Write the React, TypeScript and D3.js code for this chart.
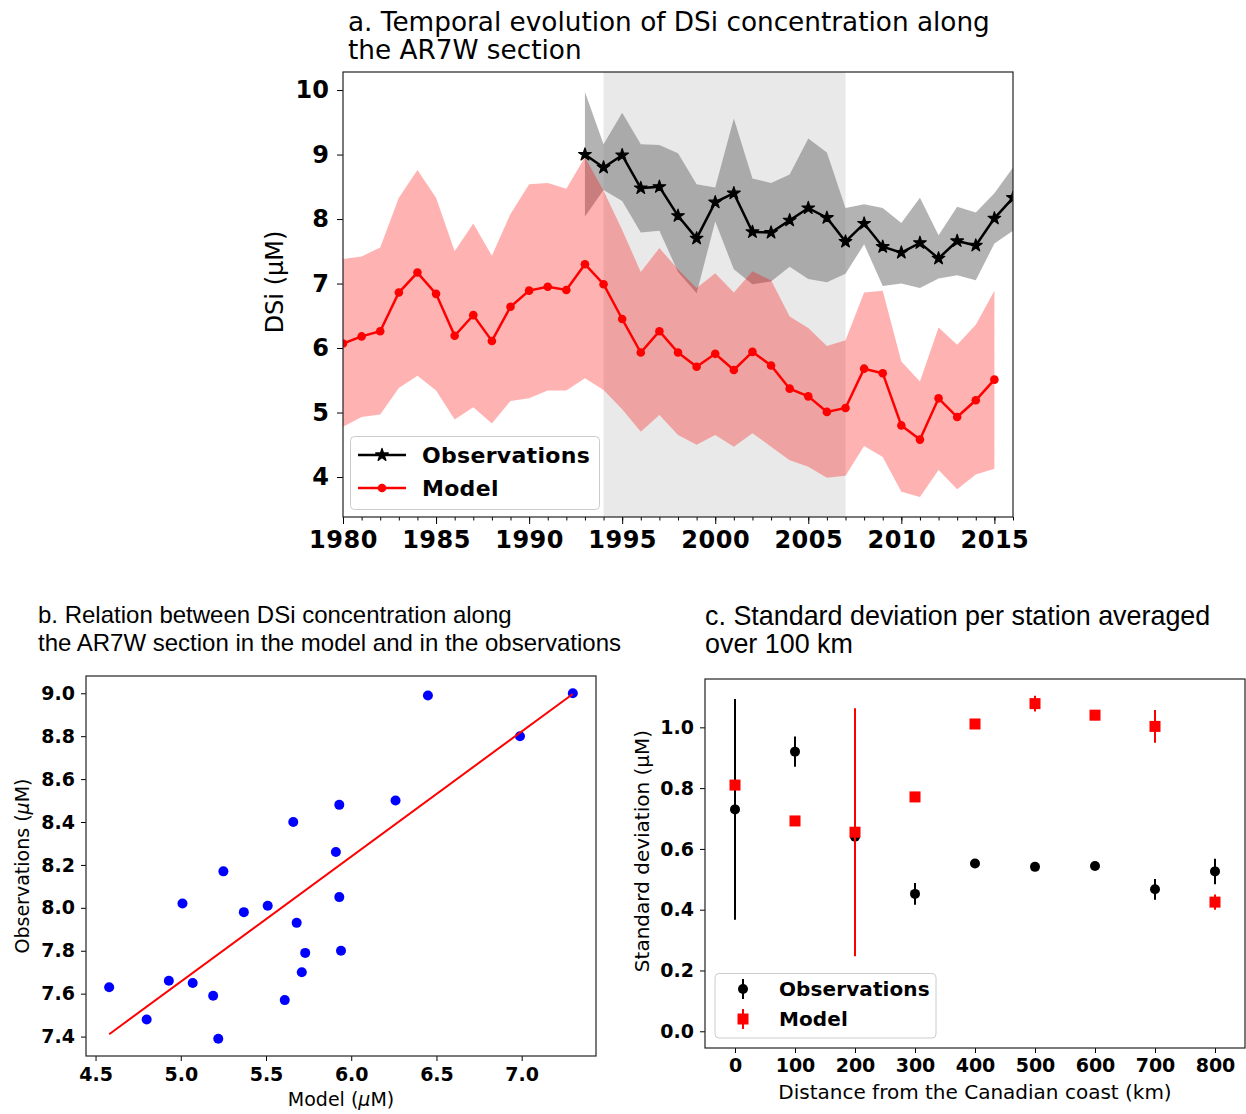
import React, { useEffect, useRef } from 'react';
import * as d3 from 'd3';

// ---- a. yearly DSi along AR7W (uM)
const modelYears = [1980, 1981, 1982, 1983, 1984, 1985, 1986, 1987, 1988, 1989, 1990, 1991, 1992, 1993, 1994, 1995, 1996, 1997, 1998, 1999, 2000, 2001, 2002, 2003, 2004, 2005, 2006, 2007, 2008, 2009, 2010, 2011, 2012, 2013, 2014, 2015];
const modelMean = [6.07, 6.18, 6.26, 6.86, 7.17, 6.84, 6.19, 6.51, 6.11, 6.64, 6.89, 6.95, 6.9, 7.3, 6.99, 6.45, 5.93, 6.26, 5.93, 5.71, 5.91, 5.66, 5.94, 5.73, 5.37, 5.25, 5.01, 5.07, 5.68, 5.61, 4.8, 4.58, 5.22, 4.93, 5.19, 5.51];
const modelHigh = [7.38, 7.42, 7.56, 8.33, 8.76, 8.33, 7.5, 7.93, 7.43, 8.08, 8.54, 8.56, 8.47, 8.96, 8.44, 7.83, 7.18, 7.55, 7.22, 6.93, 7.16, 6.86, 7.19, 7.05, 6.49, 6.31, 6.03, 6.12, 6.86, 6.89, 5.79, 5.48, 6.32, 6.05, 6.36, 6.89];
const modelLow = [4.78, 4.93, 4.97, 5.38, 5.57, 5.34, 4.89, 5.08, 4.83, 5.18, 5.22, 5.34, 5.34, 5.53, 5.35, 5.05, 4.7, 4.96, 4.65, 4.5, 4.65, 4.47, 4.68, 4.47, 4.26, 4.16, 3.99, 4.02, 4.48, 4.31, 3.77, 3.69, 4.11, 3.81, 4.04, 4.13];

const obsYears = [1993, 1994, 1995, 1996, 1997, 1998, 1999, 2000, 2001, 2002, 2003, 2004, 2005, 2006, 2007, 2008, 2009, 2010, 2011, 2012, 2013, 2014, 2015, 2016];
const obsMean = [9.0, 8.8, 8.99, 8.48, 8.5, 8.05, 7.7, 8.26, 8.4, 7.8, 7.79, 7.98, 8.17, 8.02, 7.65, 7.93, 7.57, 7.48, 7.63, 7.39, 7.66, 7.59, 8.01, 8.33];
const obsHigh = [9.97, 9.16, 9.65, 9.16, 9.15, 9.02, 8.54, 8.49, 9.56, 8.63, 8.56, 8.69, 9.25, 9.03, 8.17, 8.23, 8.17, 7.94, 8.33, 7.75, 8.19, 8.1, 8.4, 8.8];
const obsLow = [8.04, 8.45, 8.28, 7.79, 7.82, 7.18, 6.85, 7.96, 7.22, 6.99, 7.03, 7.26, 7.07, 7.02, 7.15, 7.61, 6.96, 7.0, 6.93, 7.08, 7.13, 7.05, 7.62, 7.82];

const shadeYears = [1994, 2007];
const yearTicks = [1980, 1985, 1990, 1995, 2000, 2005, 2010, 2015];
const dsiTicks = [4, 5, 6, 7, 8, 9, 10];

// ---- b. model vs observations
const modelTicksB = [4.5, 5.0, 5.5, 6.0, 6.5, 7.0];
const obsTicksB = [7.4, 7.6, 7.8, 8.0, 8.2, 8.4, 8.6, 8.8, 9.0];

// ---- c. std per station, 100 km bins
const distances = [0, 100, 200, 300, 400, 500, 600, 700, 800];
const obsStd = [0.73, 0.92, 0.64, 0.452, 0.552, 0.541, 0.544, 0.467, 0.526];
const obsStdErr = [0.363, 0.05, 0.115, 0.036, 0.004, 0.004, 0.004, 0.034, 0.042];
const modelStd = [0.81, 0.692, 0.655, 0.771, 1.011, 1.078, 1.04, 1.003, 0.425];
const modelStdErr = [0.008, 0.004, 0.408, 0.008, 0.006, 0.026, 0.004, 0.054, 0.025];
const distTicks = [0, 100, 200, 300, 400, 500, 600, 700, 800];
const stdTicks = [0, 0.2, 0.4, 0.6, 0.8, 1.0];

const SANS = "'DejaVu Sans', sans-serif";
const ARIAL = "'Liberation Sans', Arial, sans-serif";

function styleAxis(g, size) {
  g.select('.domain').remove();
  g.attr('font-family', SANS).attr('font-size', size).attr('font-weight', 'bold');
  g.selectAll('text').attr('fill', '#000');
  g.selectAll('line').attr('stroke', '#000').attr('stroke-width', 1);
}

function frame(svg, box) {
  svg.append('rect')
    .attr('x', box.l).attr('y', box.t)
    .attr('width', box.r - box.l).attr('height', box.b - box.t)
    .attr('fill', 'none').attr('stroke', '#222').attr('stroke-width', 1.2);
}

// label with an (optionally italic) mu
function muLabel(svg, x, y, before, size, rotate, italicMu) {
  const t = svg.append('text')
    .attr('font-family', SANS).attr('font-size', size)
    .attr('text-anchor', 'middle').attr('fill', '#000');
  if (rotate) t.attr('transform', `translate(${x},${y}) rotate(-90)`).attr('dy', '0.35em');
  else t.attr('x', x).attr('y', y);
  t.append('tspan').text(before + ' (');
  t.append('tspan').text('\u03bc').attr('font-style', italicMu ? 'italic' : 'normal');
  t.append('tspan').text('M)');
}

function titleLines(svg, x, y0, lh, lines, font, size) {
  lines.forEach((s, i) => {
    svg.append('text').attr('x', x).attr('y', y0 + i * lh)
      .attr('font-family', font).attr('font-size', size).attr('fill', '#000').text(s);
  });
}

function drawTimeSeries(svg) {
  const box = { l: 343, r: 1013, t: 72, b: 517 };
  const x = d3.scaleLinear().domain([1980, 2016]).range([box.l, box.r]);
  const y = d3.scaleLinear().domain([3.38, 10.28]).range([box.b, box.t]);

  svg.append('defs').append('clipPath').attr('id', 'clipA')
    .append('rect').attr('x', box.l).attr('y', box.t)
    .attr('width', box.r - box.l).attr('height', box.b - box.t);
  const g = svg.append('g').attr('clip-path', 'url(#clipA)');

  // 1994-2007 period
  g.append('rect')
    .attr('x', x(shadeYears[0])).attr('y', box.t)
    .attr('width', x(shadeYears[1]) - x(shadeYears[0])).attr('height', box.b - box.t)
    .attr('fill', '#d3d3d3').attr('fill-opacity', 0.5);

  const obsArea = d3.area().x((d, i) => x(obsYears[i])).y0((d, i) => y(obsLow[i])).y1((d, i) => y(obsHigh[i]));
  g.append('path').datum(obsMean).attr('d', obsArea).attr('fill', '#808080').attr('fill-opacity', 0.6);

  const modelArea = d3.area().x((d, i) => x(modelYears[i])).y0((d, i) => y(modelLow[i])).y1((d, i) => y(modelHigh[i]));
  g.append('path').datum(modelMean).attr('d', modelArea).attr('fill', '#ff0000').attr('fill-opacity', 0.3);

  const obsLine = d3.line().x((d, i) => x(obsYears[i])).y(d => y(d));
  g.append('path').datum(obsMean).attr('d', obsLine).attr('fill', 'none').attr('stroke', '#000').attr('stroke-width', 2.5);
  const star = d3.symbol().type(d3.symbolStar).size(50);
  g.selectAll('.star').data(obsMean).enter().append('path')
    .attr('d', star).attr('transform', (d, i) => `translate(${x(obsYears[i])},${y(d)})`)
    .attr('fill', '#000').attr('stroke', '#000').attr('stroke-width', 1.2).attr('stroke-linejoin', 'round');

  const modelLine = d3.line().x((d, i) => x(modelYears[i])).y(d => y(d));
  g.append('path').datum(modelMean).attr('d', modelLine).attr('fill', 'none').attr('stroke', '#ff0000').attr('stroke-width', 2.5);
  g.selectAll('.dot').data(modelMean).enter().append('circle')
    .attr('cx', (d, i) => x(modelYears[i])).attr('cy', d => y(d)).attr('r', 4.3).attr('fill', '#ff0000');

  // axes
  const minor = svg.append('g').attr('transform', `translate(0,${box.b})`)
    .call(d3.axisBottom(x).tickValues(modelYears.concat([2016])).tickFormat(() => '').tickSize(3.5).tickSizeOuter(0));
  styleAxis(minor, 24);
  const major = svg.append('g').attr('transform', `translate(0,${box.b})`)
    .call(d3.axisBottom(x).tickValues(yearTicks).tickFormat(d3.format('d')).tickSize(7).tickPadding(7).tickSizeOuter(0));
  styleAxis(major, 24);
  major.selectAll('text').attr('letter-spacing', 0.5);
  const left = svg.append('g').attr('transform', `translate(${box.l},0)`)
    .call(d3.axisLeft(y).tickValues(dsiTicks).tickFormat(d3.format('d')).tickSize(6).tickPadding(8).tickSizeOuter(0));
  styleAxis(left, 24);

  frame(svg, box);

  // legend
  const lg = svg.append('g');
  lg.append('rect').attr('x', 350.5).attr('y', 436.5).attr('width', 249).attr('height', 73).attr('rx', 4)
    .attr('fill', '#fff').attr('fill-opacity', 0.8).attr('stroke', '#cccccc');
  const rows = [
    { label: 'Observations', color: '#000', mark: 'star', yy: 455 },
    { label: 'Model', color: '#ff0000', mark: 'dot', yy: 488 },
  ];
  rows.forEach(r => {
    lg.append('line').attr('x1', 358).attr('x2', 406).attr('y1', r.yy).attr('y2', r.yy)
      .attr('stroke', r.color).attr('stroke-width', 2.5);
    if (r.mark === 'star') lg.append('path').attr('d', star).attr('transform', `translate(382,${r.yy})`)
      .attr('fill', r.color).attr('stroke', r.color).attr('stroke-width', 1.2).attr('stroke-linejoin', 'round');
    else lg.append('circle').attr('cx', 382).attr('cy', r.yy).attr('r', 4.3).attr('fill', r.color);
    lg.append('text').attr('x', 422).attr('y', r.yy).attr('dy', '0.36em')
      .attr('font-family', SANS).attr('font-weight', 'bold').attr('font-size', 22).attr('letter-spacing', 0.3)
      .attr('fill', '#000').text(r.label);
  });

  titleLines(svg, 348, 31, 28, ['a. Temporal evolution of DSi concentration along', 'the AR7W section'], SANS, 26.3);
  muLabel(svg, 275, 282, 'DSi', 24, true, false);
}

function drawScatter(svg) {
  const box = { l: 86, r: 596, t: 676, b: 1056 };
  // pair the overlapping years
  const pairs = obsYears
    .map((yr, i) => ({ yr, o: obsMean[i], m: modelMean[modelYears.indexOf(yr)] }))
    .filter(p => p.m !== undefined);

  const [mx0, mx1] = d3.extent(pairs, p => p.m);
  const [oy0, oy1] = d3.extent(pairs, p => p.o);
  const padX = (mx1 - mx0) * 0.05, padY = (oy1 - oy0) * 0.05;
  const x = d3.scaleLinear().domain([mx0 - padX, mx1 + padX]).range([box.l, box.r]);
  const y = d3.scaleLinear().domain([oy0 - padY, oy1 + padY]).range([box.b, box.t]);

  // least squares fit
  const xm = d3.mean(pairs, p => p.m), ym = d3.mean(pairs, p => p.o);
  const slope = d3.sum(pairs, p => (p.m - xm) * (p.o - ym)) / d3.sum(pairs, p => (p.m - xm) ** 2);
  const icpt = ym - slope * xm;

  svg.selectAll('.pt').data(pairs).enter().append('circle')
    .attr('cx', p => x(p.m)).attr('cy', p => y(p.o)).attr('r', 5).attr('fill', '#0000ff');
  svg.append('line')
    .attr('x1', x(mx0)).attr('y1', y(icpt + slope * mx0))
    .attr('x2', x(mx1)).attr('y2', y(icpt + slope * mx1))
    .attr('stroke', '#ff0000').attr('stroke-width', 2);

  const bottom = svg.append('g').attr('transform', `translate(0,${box.b})`)
    .call(d3.axisBottom(x).tickValues(modelTicksB).tickFormat(d3.format('.1f')).tickSize(5).tickPadding(7).tickSizeOuter(0));
  styleAxis(bottom, 19);
  const left = svg.append('g').attr('transform', `translate(${box.l},0)`)
    .call(d3.axisLeft(y).tickValues(obsTicksB).tickFormat(d3.format('.1f')).tickSize(5).tickPadding(6).tickSizeOuter(0));
  styleAxis(left, 19);
  frame(svg, box);

  titleLines(svg, 38, 623, 28, ['b. Relation between DSi concentration along', 'the AR7W section in the model and in the observations'], ARIAL, 24);
  muLabel(svg, 341, 1106, 'Model', 19, false, true);
  muLabel(svg, 22, 866, 'Observations', 19, true, true);
}

function drawStd(svg) {
  const box = { l: 705, r: 1245, t: 679, b: 1048 };
  const x = d3.scaleLinear().domain([-50, 850]).range([box.l, box.r]);
  const y = d3.scaleLinear().domain([-0.055, 1.159]).range([box.b, box.t]);

  const obsG = svg.append('g');
  distances.forEach((d, i) => {
    obsG.append('line').attr('x1', x(d)).attr('x2', x(d))
      .attr('y1', y(obsStd[i] - obsStdErr[i])).attr('y2', y(obsStd[i] + obsStdErr[i]))
      .attr('stroke', '#000').attr('stroke-width', 2);
    obsG.append('circle').attr('cx', x(d)).attr('cy', y(obsStd[i])).attr('r', 5).attr('fill', '#000');
  });
  const modG = svg.append('g');
  distances.forEach((d, i) => {
    modG.append('line').attr('x1', x(d)).attr('x2', x(d))
      .attr('y1', y(modelStd[i] - modelStdErr[i])).attr('y2', y(modelStd[i] + modelStdErr[i]))
      .attr('stroke', '#ff0000').attr('stroke-width', 2);
    modG.append('rect').attr('x', x(d) - 5.5).attr('y', y(modelStd[i]) - 5.5)
      .attr('width', 11).attr('height', 11).attr('fill', '#ff0000');
  });

  const bottom = svg.append('g').attr('transform', `translate(0,${box.b})`)
    .call(d3.axisBottom(x).tickValues(distTicks).tickFormat(d3.format('d')).tickSize(5).tickPadding(6).tickSizeOuter(0));
  styleAxis(bottom, 19);
  const left = svg.append('g').attr('transform', `translate(${box.l},0)`)
    .call(d3.axisLeft(y).tickValues(stdTicks).tickFormat(d3.format('.1f')).tickSize(5).tickPadding(6).tickSizeOuter(0));
  styleAxis(left, 19);
  frame(svg, box);

  // legend
  const lg = svg.append('g');
  lg.append('rect').attr('x', 715).attr('y', 973.5).attr('width', 221).attr('height', 64.5).attr('rx', 4)
    .attr('fill', '#fff').attr('fill-opacity', 0.8).attr('stroke', '#cccccc');
  lg.append('line').attr('x1', 743).attr('x2', 743).attr('y1', 979).attr('y2', 999).attr('stroke', '#000').attr('stroke-width', 2);
  lg.append('circle').attr('cx', 743).attr('cy', 989).attr('r', 5).attr('fill', '#000');
  lg.append('line').attr('x1', 743).attr('x2', 743).attr('y1', 1009).attr('y2', 1029).attr('stroke', '#ff0000').attr('stroke-width', 2);
  lg.append('rect').attr('x', 737.5).attr('y', 1013.5).attr('width', 11).attr('height', 11).attr('fill', '#ff0000');
  [['Observations', 989], ['Model', 1019]].forEach(([s, yy]) => {
    lg.append('text').attr('x', 779).attr('y', yy).attr('dy', '0.36em')
      .attr('font-family', SANS).attr('font-weight', 'bold').attr('font-size', 20).attr('letter-spacing', 0.1)
      .attr('fill', '#000').text(s);
  });

  titleLines(svg, 705, 625, 28, ['c. Standard deviation per station averaged', 'over 100 km'], ARIAL, 26.9);
  muLabel(svg, 642, 851, 'Standard deviation', 20, true, false);
  svg.append('text').attr('x', 975).attr('y', 1099).attr('text-anchor', 'middle')
    .attr('font-family', SANS).attr('font-size', 20).attr('fill', '#000')
    .text('Distance from the Canadian coast (km)');
}

export default function App() {
  const ref = useRef(null);
  useEffect(() => {
    const svg = d3.select(ref.current);
    svg.selectAll('*').remove();
    drawTimeSeries(svg);
    drawScatter(svg);
    drawStd(svg);
  }, []);
  return (
    <svg ref={ref} width={1246} height={1114}
      style={{ position: 'absolute', left: 0, top: 0, background: '#fff' }} />
  );
}
